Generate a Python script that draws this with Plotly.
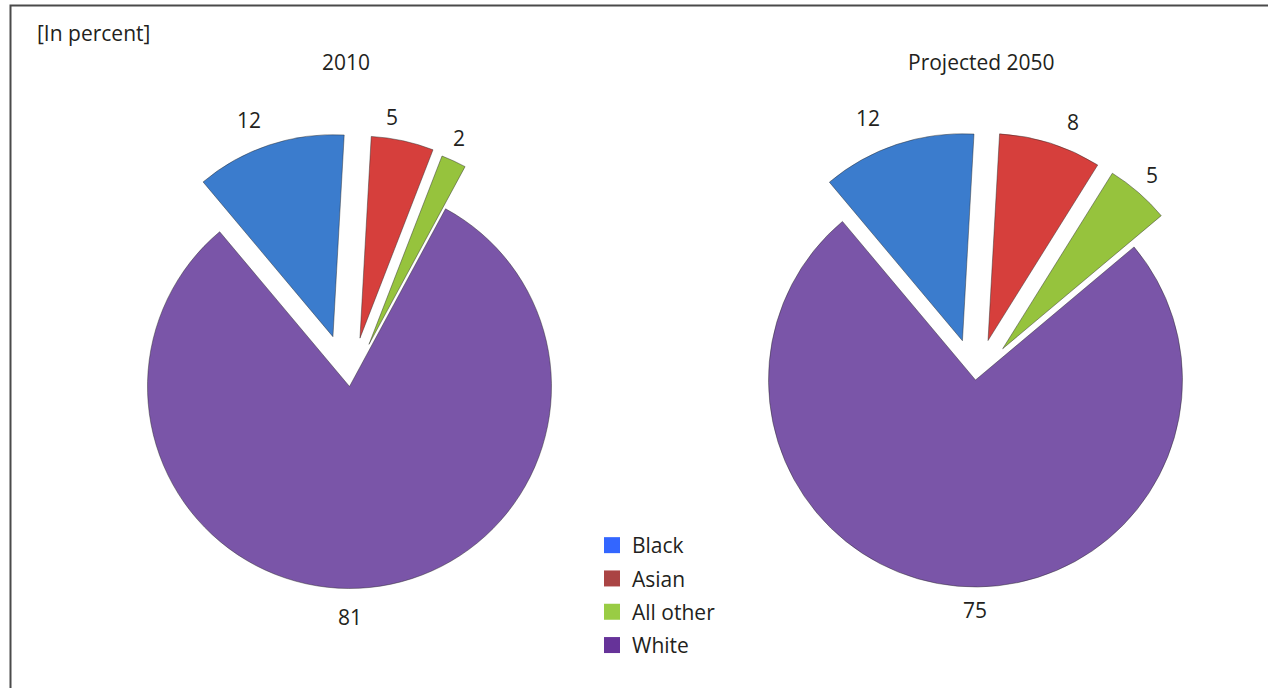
import plotly.graph_objects as go

# ---- data ----
categories = ["Black", "Asian", "All other", "White"]
values_2010 = [12, 5, 2, 81]
values_2050 = [12, 8, 5, 75]
titles = ["2010", "Projected 2050"]
unit_note = "[In percent]"

# ---- style ----
pull_2010 = [0.26, 0.245, 0.23, 0]
pull_2050 = [0.2, 0.2, 0.2, 0]
slice_colors = ["#3b7ccd", "#d63f3c", "#96c33d", "#7a55a8"]
legend_colors = ["#3366ff", "#aa4444", "#99cc44", "#663399"]
W, H = 1268, 688
FONT = "Open Sans"
TXT = "#231f20"
FS = 21

# label positions (pixel centres) for the value labels
label_px_2010 = [(249, 120), (392, 117), (459, 138), (350, 617)]
label_px_2050 = [(868, 118), (1073, 122), (1152, 175), (975, 610)]


def px_domain(cx, cy, half):
    return dict(x=[(cx - half) / W, (cx + half) / W],
                y=[1 - (cy + half) / H, 1 - (cy - half) / H])


def pie(vals, pulls, dom):
    return go.Pie(
        labels=categories, values=vals, pull=pulls, sort=False,
        direction="clockwise", rotation=-40,
        marker=dict(colors=slice_colors,
                    line=dict(color="rgba(40,40,40,0.45)", width=1)),
        textinfo="none", domain=dom, showlegend=False,
        hoverinfo="label+value",
    )


fig = go.Figure()
fig.add_trace(pie(values_2010, pull_2010, px_domain(349.5, 386.5, 202 * 1.26)))
fig.add_trace(pie(values_2050, pull_2050, px_domain(975.5, 380, 207 * 1.2)))

# legend entries (square swatches)
for i, (cat, col) in enumerate(zip(categories, legend_colors)):
    fig.add_trace(go.Scatter(
        x=[None], y=[None], mode="markers", name=cat,
        marker=dict(symbol="square", size=18, color=col),
        legendgroup=f"g{i}", showlegend=True, hoverinfo="skip",
    ))

annotations = [
    dict(text=unit_note, x=35 / W, y=1 - 33 / H, xanchor="left"),
    dict(text=titles[0], x=346 / W, y=1 - 62 / H, xanchor="center"),
    dict(text=titles[1], x=981 / W, y=1 - 62 / H, xanchor="center"),
]
for vals, pos in ((values_2010, label_px_2010), (values_2050, label_px_2050)):
    for v, (lx, ly) in zip(vals, pos):
        annotations.append(dict(text=str(v), x=lx / W, y=1 - ly / H, xanchor="center"))
for a in annotations:
    a.update(xref="paper", yref="paper", yanchor="middle", showarrow=False,
             font=dict(size=FS, family=FONT, color=TXT))

fig.update_layout(
    width=W, height=H,
    margin=dict(l=0, r=0, t=0, b=0),
    paper_bgcolor="white", plot_bgcolor="white",
    font=dict(family=FONT, size=FS, color=TXT),
    xaxis=dict(visible=False), yaxis=dict(visible=False),
    legend=dict(x=592 / W, y=1 - 525 / H, xanchor="left", yanchor="top",
                font=dict(size=FS, family=FONT, color=TXT),
                bgcolor="rgba(0,0,0,0)", traceorder="grouped",
                tracegroupgap=3),
    shapes=[dict(type="rect", xref="paper", yref="paper",
                 x0=10.5 / W, x1=1.01, y0=-0.01, y1=1 - 5.5 / H,
                 line=dict(color="#4a4a4a", width=2),
                 fillcolor="rgba(0,0,0,0)")],
    annotations=annotations,
)

fig.write_html("out.html", config={"displayModeBar": False},
               post_script="document.body.style.margin='0';document.body.style.overflow='hidden';")
